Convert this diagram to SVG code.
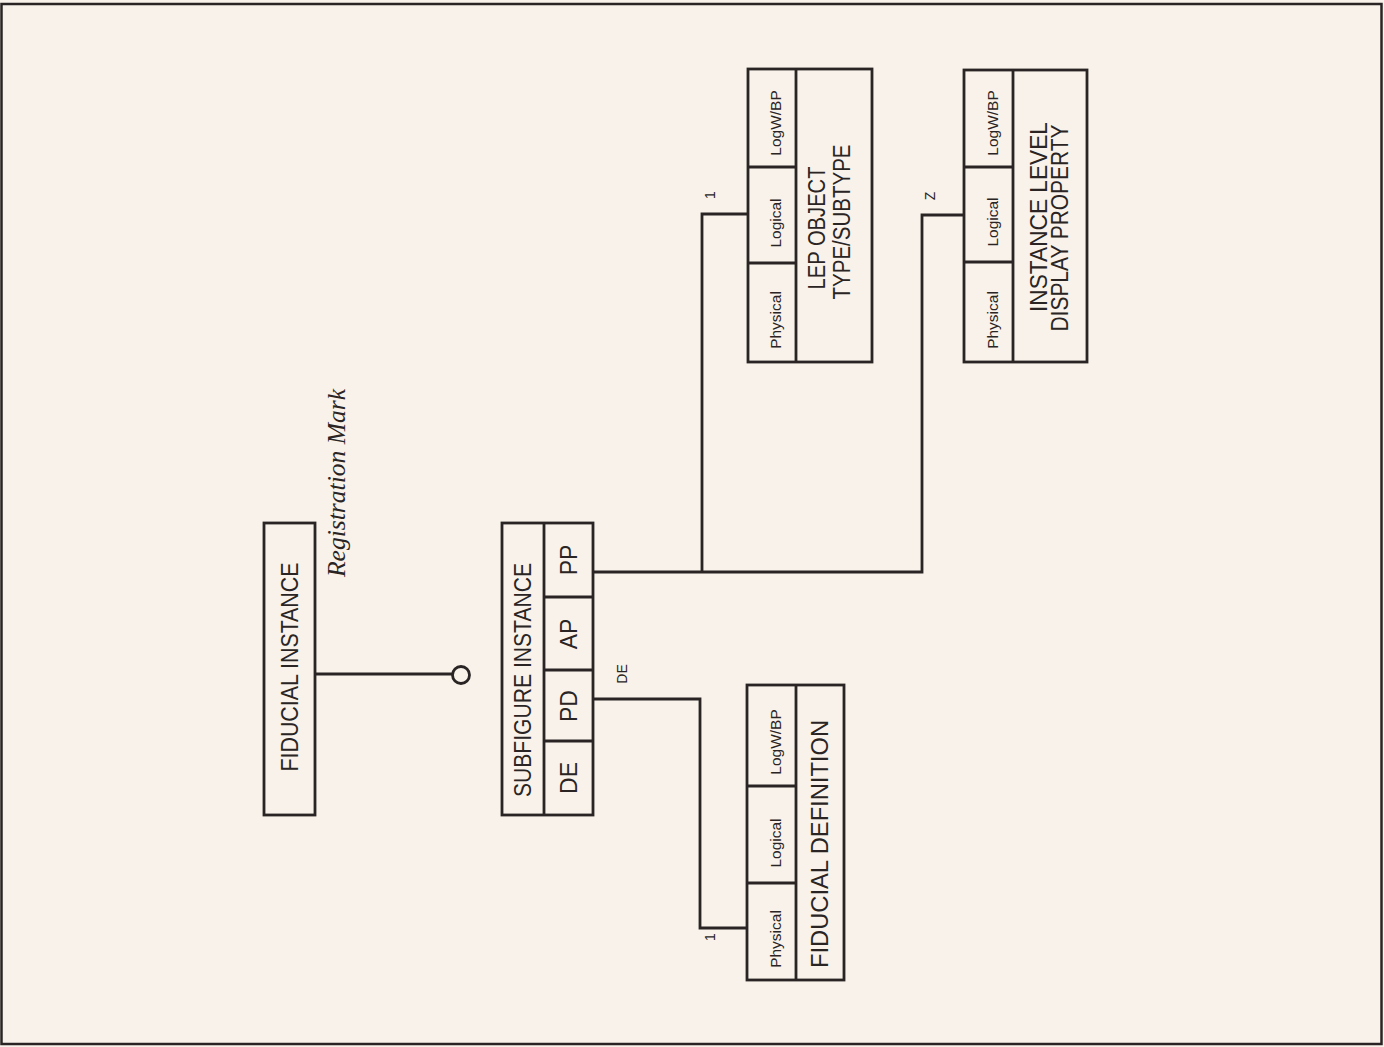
<svg xmlns="http://www.w3.org/2000/svg" width="1384" height="1047" viewBox="0 0 1384 1047">
<style>
.box{fill:none;stroke:#2a2524;stroke-width:2.8}
.ln{fill:none;stroke:#2a2524;stroke-width:2.8}
.t{font-family:"Liberation Sans",Arial,sans-serif;fill:#2a2524;text-anchor:middle}
.big{font-size:23px}
.sm{font-size:15.5px}
.tiny{font-size:14px}
.it{font-family:"Liberation Serif","Times New Roman",serif;font-style:italic;font-size:25px;fill:#2a2524;text-anchor:middle}
</style>
<rect x="0" y="0" width="1384" height="1047" fill="#f8f2ea"/>
<rect x="1.5" y="4" width="1380" height="1040" fill="none" stroke="#2a2524" stroke-width="2.5"/>

<g id="connectors">
<line class="ln" x1="315" y1="674" x2="452" y2="674"/>
<circle class="ln" cx="461" cy="675" r="8.5" stroke-width="3"/>
<polyline class="ln" points="593,572 922,572 922,215 964,215"/>
<polyline class="ln" points="702,572 702,214 748,214"/>
<polyline class="ln" points="593,699 700,699 700,928 747,928"/>
<text class="t tiny" transform="translate(627,674) rotate(-90)">DE</text>
<text class="t tiny" transform="translate(715,195) rotate(-90)">1</text>
<text class="t tiny" transform="translate(935,196) rotate(-90)">Z</text>
<text class="t tiny" transform="translate(715,937) rotate(-90)">1</text>
<text class="it" transform="translate(345,483) rotate(-90)" textLength="188" lengthAdjust="spacingAndGlyphs">Registration Mark</text>
</g>

<g id="fiducial-instance">
<rect class="box" x="264" y="523" width="51" height="292"/>
<text class="t big" transform="translate(298,667) rotate(-90)" textLength="209" lengthAdjust="spacingAndGlyphs">FIDUCIAL INSTANCE</text>
</g>

<g id="subfigure-instance">
<rect class="box" x="502" y="523" width="91" height="292"/>
<line class="box" x1="544" y1="523" x2="544" y2="815"/>
<line class="box" x1="544" y1="597" x2="593" y2="597"/>
<line class="box" x1="544" y1="670" x2="593" y2="670"/>
<line class="box" x1="544" y1="741" x2="593" y2="741"/>
<text class="t big" transform="translate(531,680) rotate(-90)" textLength="234" lengthAdjust="spacingAndGlyphs">SUBFIGURE INSTANCE</text>
<text class="t big" transform="translate(577,560) rotate(-90)">PP</text>
<text class="t big" transform="translate(577,634) rotate(-90)">AP</text>
<text class="t big" transform="translate(577,706) rotate(-90)">PD</text>
<text class="t big" transform="translate(577,778) rotate(-90)">DE</text>
</g>

<g id="fiducial-definition">
<rect class="box" x="747" y="685" width="97" height="295"/>
<line class="box" x1="796" y1="685" x2="796" y2="980"/>
<line class="box" x1="747" y1="786" x2="796" y2="786"/>
<line class="box" x1="747" y1="883" x2="796" y2="883"/>
<text class="t big" transform="translate(828,844) rotate(-90)" textLength="248" lengthAdjust="spacingAndGlyphs">FIDUCIAL DEFINITION</text>
<text class="t sm" transform="translate(781,742) rotate(-90)">LogW/BP</text>
<text class="t sm" transform="translate(781,843) rotate(-90)">Logical</text>
<text class="t sm" transform="translate(781,939) rotate(-90)">Physical</text>
</g>

<g id="lep-object">
<rect class="box" x="748" y="69" width="124" height="293"/>
<line class="box" x1="796" y1="69" x2="796" y2="362"/>
<line class="box" x1="748" y1="167" x2="796" y2="167"/>
<line class="box" x1="748" y1="263" x2="796" y2="263"/>
<text class="t big" transform="translate(825,228) rotate(-90)" textLength="123" lengthAdjust="spacingAndGlyphs">LEP OBJECT</text>
<text class="t big" transform="translate(850,222) rotate(-90)" textLength="155" lengthAdjust="spacingAndGlyphs">TYPE/SUBTYPE</text>
<text class="t sm" transform="translate(781,123) rotate(-90)">LogW/BP</text>
<text class="t sm" transform="translate(781,223) rotate(-90)">Logical</text>
<text class="t sm" transform="translate(781,320) rotate(-90)">Physical</text>
</g>

<g id="instance-level-display-property">
<rect class="box" x="964" y="70" width="123" height="292"/>
<line class="box" x1="1013" y1="70" x2="1013" y2="362"/>
<line class="box" x1="964" y1="167" x2="1013" y2="167"/>
<line class="box" x1="964" y1="262" x2="1013" y2="262"/>
<text class="t big" transform="translate(1047,217) rotate(-90)" textLength="190" lengthAdjust="spacingAndGlyphs">INSTANCE LEVEL</text>
<text class="t big" transform="translate(1068,228) rotate(-90)" textLength="207" lengthAdjust="spacingAndGlyphs">DISPLAY PROPERTY</text>
<text class="t sm" transform="translate(998,123) rotate(-90)">LogW/BP</text>
<text class="t sm" transform="translate(998,222) rotate(-90)">Logical</text>
<text class="t sm" transform="translate(998,320) rotate(-90)">Physical</text>
</g>
</svg>
